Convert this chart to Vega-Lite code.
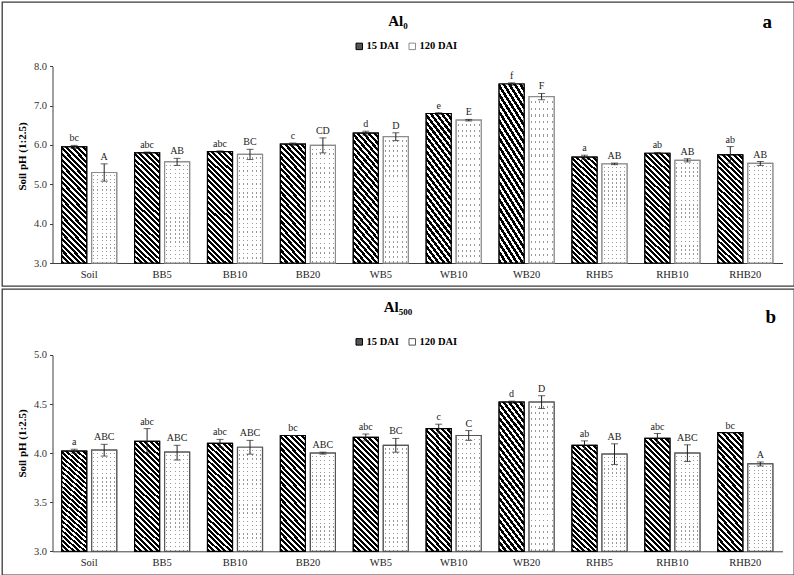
{
"$schema": "https://vega.github.io/schema/vega-lite/v6.json",
"padding": {"left": 1, "top": 1, "right": 1, "bottom": 0},
"spacing": 1,
"config": {
 "font": "Liberation Serif",
 "view": {"stroke": "#3a3a3a", "strokeWidth": 1.3},
 "axis": {"grid": false, "labelFont": "Liberation Serif", "titleFont": "Liberation Serif", "domainColor": "#404040", "tickColor": "#404040", "labelColor": "#333", "labelFontSize": 10.5},
 "legend": {"symbolType": "square", "symbolSize": 42, "labelFont": "Liberation Serif", "labelFontSize": 10.5, "labelFontWeight": "bold", "labelColor": "#000", "labelOffset": 2, "columnPadding": 8, "symbolStrokeWidth": 1}
},
"resolve": {"scale": {"x": "independent", "y": "independent", "xOffset": "independent", "fill": "independent", "stroke": "independent"}, "legend": {"fill": "independent", "stroke": "independent"}},
"vconcat": [
{
 "width": 792, "height": 284,
 "title": {"text": "Al₀", "font": "Liberation Serif", "fontSize": 15, "fontWeight": "bold", "color": "#000", "anchor": "middle", "frame": "group", "offset": -39, "baseline": "alphabetic"},
 "data": {"values": [
  {"cat": "Soil", "series": "15 DAI", "mean": 5.95, "lo": 5.91, "hi": 5.99, "letter": "bc"},
  {"cat": "Soil", "series": "120 DAI", "mean": 5.30, "lo": 5.08, "hi": 5.52, "letter": "A"},
  {"cat": "BB5", "series": "15 DAI", "mean": 5.80, "lo": 5.78, "hi": 5.82, "letter": "abc"},
  {"cat": "BB5", "series": "120 DAI", "mean": 5.57, "lo": 5.48, "hi": 5.66, "letter": "AB"},
  {"cat": "BB10", "series": "15 DAI", "mean": 5.83, "lo": 5.81, "hi": 5.85, "letter": "abc"},
  {"cat": "BB10", "series": "120 DAI", "mean": 5.76, "lo": 5.63, "hi": 5.89, "letter": "BC"},
  {"cat": "BB20", "series": "15 DAI", "mean": 6.02, "lo": 5.99, "hi": 6.05, "letter": "c"},
  {"cat": "BB20", "series": "120 DAI", "mean": 5.99, "lo": 5.80, "hi": 6.18, "letter": "CD"},
  {"cat": "WB5", "series": "15 DAI", "mean": 6.30, "lo": 6.25, "hi": 6.35, "letter": "d"},
  {"cat": "WB5", "series": "120 DAI", "mean": 6.21, "lo": 6.11, "hi": 6.31, "letter": "D"},
  {"cat": "WB10", "series": "15 DAI", "mean": 6.80, "lo": 6.78, "hi": 6.82, "letter": "e"},
  {"cat": "WB10", "series": "120 DAI", "mean": 6.63, "lo": 6.61, "hi": 6.65, "letter": "E"},
  {"cat": "WB20", "series": "15 DAI", "mean": 7.55, "lo": 7.52, "hi": 7.58, "letter": "f"},
  {"cat": "WB20", "series": "120 DAI", "mean": 7.23, "lo": 7.15, "hi": 7.31, "letter": "F"},
  {"cat": "RHB5", "series": "15 DAI", "mean": 5.69, "lo": 5.64, "hi": 5.74, "letter": "a"},
  {"cat": "RHB5", "series": "120 DAI", "mean": 5.52, "lo": 5.50, "hi": 5.54, "letter": "AB"},
  {"cat": "RHB10", "series": "15 DAI", "mean": 5.79, "lo": 5.77, "hi": 5.81, "letter": "ab"},
  {"cat": "RHB10", "series": "120 DAI", "mean": 5.61, "lo": 5.57, "hi": 5.65, "letter": "AB"},
  {"cat": "RHB20", "series": "15 DAI", "mean": 5.75, "lo": 5.54, "hi": 5.96, "letter": "ab"},
  {"cat": "RHB20", "series": "120 DAI", "mean": 5.53, "lo": 5.48, "hi": 5.58, "letter": "AB"}
 ]},
 "encoding": {
  "x": {"field": "cat", "type": "nominal", "title": null,
   "scale": {"domain": ["Soil","BB5","BB10","BB20","WB5","WB10","WB20","RHB5","RHB10","RHB20"], "paddingInner": 0.2455, "paddingOuter": 0.5548, "align": 0.738, "round": false},
   "axis": {"offset": -23, "ticks": false, "labelPadding": 6, "labelAngle": 0, "labelColor": "#222", "domainDash": [730, 2000], "domainDashOffset": 2679.5}},
  "xOffset": {"field": "series", "type": "nominal", "scale": {"domain": ["15 DAI","120 DAI"], "paddingInner": 0.1667, "paddingOuter": 0}}
 },
 "layer": [
  {"mark": {"type": "bar", "strokeWidth": 1.2},
   "encoding": {
    "y": {"field": "mean", "type": "quantitative", "title": "Soil pH (1:2.5)",
     "scale": {"domain": [2.4154, 9.6345], "nice": false, "zero": false},
     "axis": {"values": [3,4,5,6,7,8], "format": ".1f", "offset": -50.5, "tickSize": 3, "labelPadding": 3, "domainDash": [196.7, 1000], "domainDashOffset": 1173.7, "titleFontSize": 11, "titleFontWeight": "bold", "titleColor": "#000", "titleX": -29.8, "titleY": 154, "titleBaseline": "middle", "titleAlign": "center", "titleAngle": -90}},
    "y2": {"datum": 3},
    "fill": {"field": "series", "type": "nominal", "scale": {"domain": ["15 DAI","120 DAI"], "range": ["#555", "#fff"]},
     "legend": {"title": null, "orient": "none", "legendX": 352, "legendY": 39, "direction": "horizontal"}},
    "stroke": {"field": "series", "type": "nominal", "scale": {"domain": ["15 DAI","120 DAI"], "range": ["#000", "#8c8c8c"]},
     "legend": {"title": null, "orient": "none", "legendX": 352, "legendY": 39, "direction": "horizontal"}}
   }},
  {"transform": [{"filter": "datum.series == '15 DAI'"}],
   "mark": {"type": "bar", "strokeWidth": 1.2, "stroke": "#000", "fill": {"gradient": "linear", "x1": 0, "y1": 1, "x2": 0.2588, "y2": -0.1647, "stops": [{"offset":0,"color":"#000"},{"offset":0.022,"color":"#000"},{"offset":0.022,"color":"#fff"},{"offset":0.04,"color":"#fff"},{"offset":0.04,"color":"#000"},{"offset":0.062,"color":"#000"},{"offset":0.062,"color":"#fff"},{"offset":0.08,"color":"#fff"},{"offset":0.08,"color":"#000"},{"offset":0.102,"color":"#000"},{"offset":0.102,"color":"#fff"},{"offset":0.12,"color":"#fff"},{"offset":0.12,"color":"#000"},{"offset":0.142,"color":"#000"},{"offset":0.142,"color":"#fff"},{"offset":0.16,"color":"#fff"},{"offset":0.16,"color":"#000"},{"offset":0.182,"color":"#000"},{"offset":0.182,"color":"#fff"},{"offset":0.2,"color":"#fff"},{"offset":0.2,"color":"#000"},{"offset":0.222,"color":"#000"},{"offset":0.222,"color":"#fff"},{"offset":0.24,"color":"#fff"},{"offset":0.24,"color":"#000"},{"offset":0.262,"color":"#000"},{"offset":0.262,"color":"#fff"},{"offset":0.28,"color":"#fff"},{"offset":0.28,"color":"#000"},{"offset":0.302,"color":"#000"},{"offset":0.302,"color":"#fff"},{"offset":0.32,"color":"#fff"},{"offset":0.32,"color":"#000"},{"offset":0.342,"color":"#000"},{"offset":0.342,"color":"#fff"},{"offset":0.36,"color":"#fff"},{"offset":0.36,"color":"#000"},{"offset":0.382,"color":"#000"},{"offset":0.382,"color":"#fff"},{"offset":0.4,"color":"#fff"},{"offset":0.4,"color":"#000"},{"offset":0.422,"color":"#000"},{"offset":0.422,"color":"#fff"},{"offset":0.44,"color":"#fff"},{"offset":0.44,"color":"#000"},{"offset":0.462,"color":"#000"},{"offset":0.462,"color":"#fff"},{"offset":0.48,"color":"#fff"},{"offset":0.48,"color":"#000"},{"offset":0.502,"color":"#000"},{"offset":0.502,"color":"#fff"},{"offset":0.52,"color":"#fff"},{"offset":0.52,"color":"#000"},{"offset":0.542,"color":"#000"},{"offset":0.542,"color":"#fff"},{"offset":0.56,"color":"#fff"},{"offset":0.56,"color":"#000"},{"offset":0.582,"color":"#000"},{"offset":0.582,"color":"#fff"},{"offset":0.6,"color":"#fff"},{"offset":0.6,"color":"#000"},{"offset":0.622,"color":"#000"},{"offset":0.622,"color":"#fff"},{"offset":0.64,"color":"#fff"},{"offset":0.64,"color":"#000"},{"offset":0.662,"color":"#000"},{"offset":0.662,"color":"#fff"},{"offset":0.68,"color":"#fff"},{"offset":0.68,"color":"#000"},{"offset":0.702,"color":"#000"},{"offset":0.702,"color":"#fff"},{"offset":0.72,"color":"#fff"},{"offset":0.72,"color":"#000"},{"offset":0.742,"color":"#000"},{"offset":0.742,"color":"#fff"},{"offset":0.76,"color":"#fff"},{"offset":0.76,"color":"#000"},{"offset":0.782,"color":"#000"},{"offset":0.782,"color":"#fff"},{"offset":0.8,"color":"#fff"},{"offset":0.8,"color":"#000"},{"offset":0.822,"color":"#000"},{"offset":0.822,"color":"#fff"},{"offset":0.84,"color":"#fff"},{"offset":0.84,"color":"#000"},{"offset":0.862,"color":"#000"},{"offset":0.862,"color":"#fff"},{"offset":0.88,"color":"#fff"},{"offset":0.88,"color":"#000"},{"offset":0.902,"color":"#000"},{"offset":0.902,"color":"#fff"},{"offset":0.92,"color":"#fff"},{"offset":0.92,"color":"#000"},{"offset":0.942,"color":"#000"},{"offset":0.942,"color":"#fff"},{"offset":0.96,"color":"#fff"},{"offset":0.96,"color":"#000"},{"offset":0.982,"color":"#000"},{"offset":0.982,"color":"#fff"},{"offset":1,"color":"#fff"}]}},
   "encoding": {"y": {"field": "mean", "type": "quantitative", "title": "Soil pH (1:2.5)"}, "y2": {"datum": 3}}},
  {"transform": [{"filter": "datum.series == '120 DAI'"}],
   "mark": {"type": "bar", "strokeWidth": 0, "fill": {"gradient": "linear", "x1": 0, "y1": 0, "x2": 1, "y2": 0, "stops": [{"offset":0,"color":"#fff"},{"offset":0.063,"color":"#fff"},{"offset":0.063,"color":"#999"},{"offset":0.103,"color":"#999"},{"offset":0.103,"color":"#fff"},{"offset":0.23,"color":"#fff"},{"offset":0.23,"color":"#999"},{"offset":0.27,"color":"#999"},{"offset":0.27,"color":"#fff"},{"offset":0.397,"color":"#fff"},{"offset":0.397,"color":"#999"},{"offset":0.437,"color":"#999"},{"offset":0.437,"color":"#fff"},{"offset":0.563,"color":"#fff"},{"offset":0.563,"color":"#999"},{"offset":0.603,"color":"#999"},{"offset":0.603,"color":"#fff"},{"offset":0.73,"color":"#fff"},{"offset":0.73,"color":"#999"},{"offset":0.77,"color":"#999"},{"offset":0.77,"color":"#fff"},{"offset":0.897,"color":"#fff"},{"offset":0.897,"color":"#999"},{"offset":0.937,"color":"#999"},{"offset":0.937,"color":"#fff"},{"offset":1,"color":"#fff"}]}},
   "encoding": {"y": {"field": "mean", "type": "quantitative", "title": "Soil pH (1:2.5)"}, "y2": {"datum": 3}}},
  {"transform": [{"filter": "datum.series == '120 DAI'"}],
   "mark": {"type": "bar", "strokeWidth": 1.2, "stroke": "#8c8c8c", "fill": {"gradient": "linear", "x1": 0, "y1": 0, "x2": 0, "y2": 1, "stops": [{"offset":0,"color":"#fff"},{"offset":0.027,"color":"#fff"},{"offset":0.027,"color":"rgba(255,255,255,0)"},{"offset":0.04,"color":"rgba(255,255,255,0)"},{"offset":0.04,"color":"#fff"},{"offset":0.067,"color":"#fff"},{"offset":0.067,"color":"rgba(255,255,255,0)"},{"offset":0.08,"color":"rgba(255,255,255,0)"},{"offset":0.08,"color":"#fff"},{"offset":0.107,"color":"#fff"},{"offset":0.107,"color":"rgba(255,255,255,0)"},{"offset":0.12,"color":"rgba(255,255,255,0)"},{"offset":0.12,"color":"#fff"},{"offset":0.147,"color":"#fff"},{"offset":0.147,"color":"rgba(255,255,255,0)"},{"offset":0.16,"color":"rgba(255,255,255,0)"},{"offset":0.16,"color":"#fff"},{"offset":0.187,"color":"#fff"},{"offset":0.187,"color":"rgba(255,255,255,0)"},{"offset":0.2,"color":"rgba(255,255,255,0)"},{"offset":0.2,"color":"#fff"},{"offset":0.227,"color":"#fff"},{"offset":0.227,"color":"rgba(255,255,255,0)"},{"offset":0.24,"color":"rgba(255,255,255,0)"},{"offset":0.24,"color":"#fff"},{"offset":0.267,"color":"#fff"},{"offset":0.267,"color":"rgba(255,255,255,0)"},{"offset":0.28,"color":"rgba(255,255,255,0)"},{"offset":0.28,"color":"#fff"},{"offset":0.307,"color":"#fff"},{"offset":0.307,"color":"rgba(255,255,255,0)"},{"offset":0.32,"color":"rgba(255,255,255,0)"},{"offset":0.32,"color":"#fff"},{"offset":0.347,"color":"#fff"},{"offset":0.347,"color":"rgba(255,255,255,0)"},{"offset":0.36,"color":"rgba(255,255,255,0)"},{"offset":0.36,"color":"#fff"},{"offset":0.387,"color":"#fff"},{"offset":0.387,"color":"rgba(255,255,255,0)"},{"offset":0.4,"color":"rgba(255,255,255,0)"},{"offset":0.4,"color":"#fff"},{"offset":0.427,"color":"#fff"},{"offset":0.427,"color":"rgba(255,255,255,0)"},{"offset":0.44,"color":"rgba(255,255,255,0)"},{"offset":0.44,"color":"#fff"},{"offset":0.467,"color":"#fff"},{"offset":0.467,"color":"rgba(255,255,255,0)"},{"offset":0.48,"color":"rgba(255,255,255,0)"},{"offset":0.48,"color":"#fff"},{"offset":0.507,"color":"#fff"},{"offset":0.507,"color":"rgba(255,255,255,0)"},{"offset":0.52,"color":"rgba(255,255,255,0)"},{"offset":0.52,"color":"#fff"},{"offset":0.547,"color":"#fff"},{"offset":0.547,"color":"rgba(255,255,255,0)"},{"offset":0.56,"color":"rgba(255,255,255,0)"},{"offset":0.56,"color":"#fff"},{"offset":0.587,"color":"#fff"},{"offset":0.587,"color":"rgba(255,255,255,0)"},{"offset":0.6,"color":"rgba(255,255,255,0)"},{"offset":0.6,"color":"#fff"},{"offset":0.627,"color":"#fff"},{"offset":0.627,"color":"rgba(255,255,255,0)"},{"offset":0.64,"color":"rgba(255,255,255,0)"},{"offset":0.64,"color":"#fff"},{"offset":0.667,"color":"#fff"},{"offset":0.667,"color":"rgba(255,255,255,0)"},{"offset":0.68,"color":"rgba(255,255,255,0)"},{"offset":0.68,"color":"#fff"},{"offset":0.707,"color":"#fff"},{"offset":0.707,"color":"rgba(255,255,255,0)"},{"offset":0.72,"color":"rgba(255,255,255,0)"},{"offset":0.72,"color":"#fff"},{"offset":0.747,"color":"#fff"},{"offset":0.747,"color":"rgba(255,255,255,0)"},{"offset":0.76,"color":"rgba(255,255,255,0)"},{"offset":0.76,"color":"#fff"},{"offset":0.787,"color":"#fff"},{"offset":0.787,"color":"rgba(255,255,255,0)"},{"offset":0.8,"color":"rgba(255,255,255,0)"},{"offset":0.8,"color":"#fff"},{"offset":0.827,"color":"#fff"},{"offset":0.827,"color":"rgba(255,255,255,0)"},{"offset":0.84,"color":"rgba(255,255,255,0)"},{"offset":0.84,"color":"#fff"},{"offset":0.867,"color":"#fff"},{"offset":0.867,"color":"rgba(255,255,255,0)"},{"offset":0.88,"color":"rgba(255,255,255,0)"},{"offset":0.88,"color":"#fff"},{"offset":0.907,"color":"#fff"},{"offset":0.907,"color":"rgba(255,255,255,0)"},{"offset":0.92,"color":"rgba(255,255,255,0)"},{"offset":0.92,"color":"#fff"},{"offset":0.947,"color":"#fff"},{"offset":0.947,"color":"rgba(255,255,255,0)"},{"offset":0.96,"color":"rgba(255,255,255,0)"},{"offset":0.96,"color":"#fff"},{"offset":0.987,"color":"#fff"},{"offset":0.987,"color":"rgba(255,255,255,0)"},{"offset":1,"color":"rgba(255,255,255,0)"}]}},
   "encoding": {"y": {"field": "mean", "type": "quantitative", "title": "Soil pH (1:2.5)"}, "y2": {"datum": 3}}},
  {"mark": {"type": "errorbar", "color": "#222", "thickness": 1, "ticks": {"size": 7, "thickness": 1, "color": "#222"}},
   "encoding": {
    "y": {"field": "lo", "type": "quantitative", "title": "Soil pH (1:2.5)"},
    "y2": {"field": "hi"}
   }},
  {"mark": {"type": "text", "baseline": "alphabetic", "dy": -4, "fontSize": 10, "color": "#222", "font": "Liberation Serif"},
   "encoding": {
    "y": {"field": "hi", "type": "quantitative", "title": "Soil pH (1:2.5)"},
    "text": {"field": "letter"}
   }},
  {"data": {"values": [{"label": "a"}]},
   "mark": {"type": "text", "baseline": "alphabetic", "dx": 7, "fontSize": 19, "fontWeight": "bold", "color": "#000", "font": "Liberation Serif"},
   "encoding": {
    "x": {"datum": "RHB20"},
    "xOffset": {"datum": "120 DAI"},
    "y": {"datum": 8.97},
    "text": {"field": "label"}
   }}
 ]
},
{
 "width": 792, "height": 286,
 "title": {"text": "Al₅₀₀", "font": "Liberation Serif", "fontSize": 15, "fontWeight": "bold", "color": "#000", "anchor": "middle", "frame": "group", "offset": -38, "baseline": "alphabetic"},
 "data": {"values": [
  {"cat": "Soil", "series": "15 DAI", "mean": 4.02, "lo": 4.00, "hi": 4.04, "letter": "a"},
  {"cat": "Soil", "series": "120 DAI", "mean": 4.03, "lo": 3.97, "hi": 4.09, "letter": "ABC"},
  {"cat": "BB5", "series": "15 DAI", "mean": 4.12, "lo": 4.00, "hi": 4.25, "letter": "abc"},
  {"cat": "BB5", "series": "120 DAI", "mean": 4.01, "lo": 3.93, "hi": 4.08, "letter": "ABC"},
  {"cat": "BB10", "series": "15 DAI", "mean": 4.10, "lo": 4.06, "hi": 4.14, "letter": "abc"},
  {"cat": "BB10", "series": "120 DAI", "mean": 4.06, "lo": 3.99, "hi": 4.13, "letter": "ABC"},
  {"cat": "BB20", "series": "15 DAI", "mean": 4.18, "lo": 4.18, "hi": 4.18, "letter": "bc"},
  {"cat": "BB20", "series": "120 DAI", "mean": 4.00, "lo": 3.99, "hi": 4.01, "letter": "ABC"},
  {"cat": "WB5", "series": "15 DAI", "mean": 4.16, "lo": 4.125, "hi": 4.195, "letter": "abc"},
  {"cat": "WB5", "series": "120 DAI", "mean": 4.08, "lo": 4.01, "hi": 4.15, "letter": "BC"},
  {"cat": "WB10", "series": "15 DAI", "mean": 4.25, "lo": 4.205, "hi": 4.295, "letter": "c"},
  {"cat": "WB10", "series": "120 DAI", "mean": 4.18, "lo": 4.13, "hi": 4.23, "letter": "C"},
  {"cat": "WB20", "series": "15 DAI", "mean": 4.52, "lo": 4.51, "hi": 4.53, "letter": "d"},
  {"cat": "WB20", "series": "120 DAI", "mean": 4.52, "lo": 4.455, "hi": 4.585, "letter": "D"},
  {"cat": "RHB5", "series": "15 DAI", "mean": 4.08, "lo": 4.035, "hi": 4.125, "letter": "ab"},
  {"cat": "RHB5", "series": "120 DAI", "mean": 3.99, "lo": 3.885, "hi": 4.095, "letter": "AB"},
  {"cat": "RHB10", "series": "15 DAI", "mean": 4.15, "lo": 4.10, "hi": 4.20, "letter": "abc"},
  {"cat": "RHB10", "series": "120 DAI", "mean": 4.00, "lo": 3.915, "hi": 4.085, "letter": "ABC"},
  {"cat": "RHB20", "series": "15 DAI", "mean": 4.21, "lo": 4.21, "hi": 4.21, "letter": "bc"},
  {"cat": "RHB20", "series": "120 DAI", "mean": 3.89, "lo": 3.87, "hi": 3.91, "letter": "A"}
 ]},
 "encoding": {
  "x": {"field": "cat", "type": "nominal", "title": null,
   "scale": {"domain": ["Soil","BB5","BB10","BB20","WB5","WB10","WB20","RHB5","RHB10","RHB20"], "paddingInner": 0.2455, "paddingOuter": 0.5548, "align": 0.738, "round": false},
   "axis": {"offset": -23.7, "ticks": false, "labelPadding": 6, "labelAngle": 0, "labelColor": "#222", "domainDash": [730, 2000], "domainDashOffset": 2679.5}},
  "xOffset": {"field": "series", "type": "nominal", "scale": {"domain": ["15 DAI","120 DAI"], "paddingInner": 0.1667, "paddingOuter": 0}}
 },
 "layer": [
  {"mark": {"type": "bar", "strokeWidth": 1.2},
   "encoding": {
    "y": {"field": "mean", "type": "quantitative", "title": "Soil pH (1:2.5)",
     "scale": {"domain": [2.7585, 5.6724], "nice": false, "zero": false},
     "axis": {"values": [3,3.5,4,4.5,5], "format": ".1f", "offset": -50.5, "tickSize": 3, "labelPadding": 3, "domainDash": [196.3, 1000], "domainDashOffset": 1172.6, "titleFontSize": 11, "titleFontWeight": "bold", "titleColor": "#000", "titleX": -29.8, "titleY": 154, "titleBaseline": "middle", "titleAlign": "center", "titleAngle": -90}},
    "y2": {"datum": 3},
    "fill": {"field": "series", "type": "nominal", "scale": {"domain": ["15 DAI","120 DAI"], "range": ["#555", "#fff"]},
     "legend": {"title": null, "orient": "none", "legendX": 352, "legendY": 47.5, "direction": "horizontal"}},
    "stroke": {"field": "series", "type": "nominal", "scale": {"domain": ["15 DAI","120 DAI"], "range": ["#000", "#555"]},
     "legend": {"title": null, "orient": "none", "legendX": 352, "legendY": 47.5, "direction": "horizontal"}}
   }},
  {"transform": [{"filter": "datum.series == '15 DAI'"}],
   "mark": {"type": "bar", "strokeWidth": 1.2, "stroke": "#000", "fill": {"gradient": "linear", "x1": 0, "y1": 1, "x2": 0.2588, "y2": -0.1647, "stops": [{"offset":0,"color":"#000"},{"offset":0.022,"color":"#000"},{"offset":0.022,"color":"#fff"},{"offset":0.04,"color":"#fff"},{"offset":0.04,"color":"#000"},{"offset":0.062,"color":"#000"},{"offset":0.062,"color":"#fff"},{"offset":0.08,"color":"#fff"},{"offset":0.08,"color":"#000"},{"offset":0.102,"color":"#000"},{"offset":0.102,"color":"#fff"},{"offset":0.12,"color":"#fff"},{"offset":0.12,"color":"#000"},{"offset":0.142,"color":"#000"},{"offset":0.142,"color":"#fff"},{"offset":0.16,"color":"#fff"},{"offset":0.16,"color":"#000"},{"offset":0.182,"color":"#000"},{"offset":0.182,"color":"#fff"},{"offset":0.2,"color":"#fff"},{"offset":0.2,"color":"#000"},{"offset":0.222,"color":"#000"},{"offset":0.222,"color":"#fff"},{"offset":0.24,"color":"#fff"},{"offset":0.24,"color":"#000"},{"offset":0.262,"color":"#000"},{"offset":0.262,"color":"#fff"},{"offset":0.28,"color":"#fff"},{"offset":0.28,"color":"#000"},{"offset":0.302,"color":"#000"},{"offset":0.302,"color":"#fff"},{"offset":0.32,"color":"#fff"},{"offset":0.32,"color":"#000"},{"offset":0.342,"color":"#000"},{"offset":0.342,"color":"#fff"},{"offset":0.36,"color":"#fff"},{"offset":0.36,"color":"#000"},{"offset":0.382,"color":"#000"},{"offset":0.382,"color":"#fff"},{"offset":0.4,"color":"#fff"},{"offset":0.4,"color":"#000"},{"offset":0.422,"color":"#000"},{"offset":0.422,"color":"#fff"},{"offset":0.44,"color":"#fff"},{"offset":0.44,"color":"#000"},{"offset":0.462,"color":"#000"},{"offset":0.462,"color":"#fff"},{"offset":0.48,"color":"#fff"},{"offset":0.48,"color":"#000"},{"offset":0.502,"color":"#000"},{"offset":0.502,"color":"#fff"},{"offset":0.52,"color":"#fff"},{"offset":0.52,"color":"#000"},{"offset":0.542,"color":"#000"},{"offset":0.542,"color":"#fff"},{"offset":0.56,"color":"#fff"},{"offset":0.56,"color":"#000"},{"offset":0.582,"color":"#000"},{"offset":0.582,"color":"#fff"},{"offset":0.6,"color":"#fff"},{"offset":0.6,"color":"#000"},{"offset":0.622,"color":"#000"},{"offset":0.622,"color":"#fff"},{"offset":0.64,"color":"#fff"},{"offset":0.64,"color":"#000"},{"offset":0.662,"color":"#000"},{"offset":0.662,"color":"#fff"},{"offset":0.68,"color":"#fff"},{"offset":0.68,"color":"#000"},{"offset":0.702,"color":"#000"},{"offset":0.702,"color":"#fff"},{"offset":0.72,"color":"#fff"},{"offset":0.72,"color":"#000"},{"offset":0.742,"color":"#000"},{"offset":0.742,"color":"#fff"},{"offset":0.76,"color":"#fff"},{"offset":0.76,"color":"#000"},{"offset":0.782,"color":"#000"},{"offset":0.782,"color":"#fff"},{"offset":0.8,"color":"#fff"},{"offset":0.8,"color":"#000"},{"offset":0.822,"color":"#000"},{"offset":0.822,"color":"#fff"},{"offset":0.84,"color":"#fff"},{"offset":0.84,"color":"#000"},{"offset":0.862,"color":"#000"},{"offset":0.862,"color":"#fff"},{"offset":0.88,"color":"#fff"},{"offset":0.88,"color":"#000"},{"offset":0.902,"color":"#000"},{"offset":0.902,"color":"#fff"},{"offset":0.92,"color":"#fff"},{"offset":0.92,"color":"#000"},{"offset":0.942,"color":"#000"},{"offset":0.942,"color":"#fff"},{"offset":0.96,"color":"#fff"},{"offset":0.96,"color":"#000"},{"offset":0.982,"color":"#000"},{"offset":0.982,"color":"#fff"},{"offset":1,"color":"#fff"}]}},
   "encoding": {"y": {"field": "mean", "type": "quantitative", "title": "Soil pH (1:2.5)"}, "y2": {"datum": 3}}},
  {"transform": [{"filter": "datum.series == '120 DAI'"}],
   "mark": {"type": "bar", "strokeWidth": 0, "fill": {"gradient": "linear", "x1": 0, "y1": 0, "x2": 1, "y2": 0, "stops": [{"offset":0,"color":"#fff"},{"offset":0.063,"color":"#fff"},{"offset":0.063,"color":"#999"},{"offset":0.103,"color":"#999"},{"offset":0.103,"color":"#fff"},{"offset":0.23,"color":"#fff"},{"offset":0.23,"color":"#999"},{"offset":0.27,"color":"#999"},{"offset":0.27,"color":"#fff"},{"offset":0.397,"color":"#fff"},{"offset":0.397,"color":"#999"},{"offset":0.437,"color":"#999"},{"offset":0.437,"color":"#fff"},{"offset":0.563,"color":"#fff"},{"offset":0.563,"color":"#999"},{"offset":0.603,"color":"#999"},{"offset":0.603,"color":"#fff"},{"offset":0.73,"color":"#fff"},{"offset":0.73,"color":"#999"},{"offset":0.77,"color":"#999"},{"offset":0.77,"color":"#fff"},{"offset":0.897,"color":"#fff"},{"offset":0.897,"color":"#999"},{"offset":0.937,"color":"#999"},{"offset":0.937,"color":"#fff"},{"offset":1,"color":"#fff"}]}},
   "encoding": {"y": {"field": "mean", "type": "quantitative", "title": "Soil pH (1:2.5)"}, "y2": {"datum": 3}}},
  {"transform": [{"filter": "datum.series == '120 DAI'"}],
   "mark": {"type": "bar", "strokeWidth": 1.2, "stroke": "#555", "fill": {"gradient": "linear", "x1": 0, "y1": 0, "x2": 0, "y2": 1, "stops": [{"offset":0,"color":"#fff"},{"offset":0.027,"color":"#fff"},{"offset":0.027,"color":"rgba(255,255,255,0)"},{"offset":0.04,"color":"rgba(255,255,255,0)"},{"offset":0.04,"color":"#fff"},{"offset":0.067,"color":"#fff"},{"offset":0.067,"color":"rgba(255,255,255,0)"},{"offset":0.08,"color":"rgba(255,255,255,0)"},{"offset":0.08,"color":"#fff"},{"offset":0.107,"color":"#fff"},{"offset":0.107,"color":"rgba(255,255,255,0)"},{"offset":0.12,"color":"rgba(255,255,255,0)"},{"offset":0.12,"color":"#fff"},{"offset":0.147,"color":"#fff"},{"offset":0.147,"color":"rgba(255,255,255,0)"},{"offset":0.16,"color":"rgba(255,255,255,0)"},{"offset":0.16,"color":"#fff"},{"offset":0.187,"color":"#fff"},{"offset":0.187,"color":"rgba(255,255,255,0)"},{"offset":0.2,"color":"rgba(255,255,255,0)"},{"offset":0.2,"color":"#fff"},{"offset":0.227,"color":"#fff"},{"offset":0.227,"color":"rgba(255,255,255,0)"},{"offset":0.24,"color":"rgba(255,255,255,0)"},{"offset":0.24,"color":"#fff"},{"offset":0.267,"color":"#fff"},{"offset":0.267,"color":"rgba(255,255,255,0)"},{"offset":0.28,"color":"rgba(255,255,255,0)"},{"offset":0.28,"color":"#fff"},{"offset":0.307,"color":"#fff"},{"offset":0.307,"color":"rgba(255,255,255,0)"},{"offset":0.32,"color":"rgba(255,255,255,0)"},{"offset":0.32,"color":"#fff"},{"offset":0.347,"color":"#fff"},{"offset":0.347,"color":"rgba(255,255,255,0)"},{"offset":0.36,"color":"rgba(255,255,255,0)"},{"offset":0.36,"color":"#fff"},{"offset":0.387,"color":"#fff"},{"offset":0.387,"color":"rgba(255,255,255,0)"},{"offset":0.4,"color":"rgba(255,255,255,0)"},{"offset":0.4,"color":"#fff"},{"offset":0.427,"color":"#fff"},{"offset":0.427,"color":"rgba(255,255,255,0)"},{"offset":0.44,"color":"rgba(255,255,255,0)"},{"offset":0.44,"color":"#fff"},{"offset":0.467,"color":"#fff"},{"offset":0.467,"color":"rgba(255,255,255,0)"},{"offset":0.48,"color":"rgba(255,255,255,0)"},{"offset":0.48,"color":"#fff"},{"offset":0.507,"color":"#fff"},{"offset":0.507,"color":"rgba(255,255,255,0)"},{"offset":0.52,"color":"rgba(255,255,255,0)"},{"offset":0.52,"color":"#fff"},{"offset":0.547,"color":"#fff"},{"offset":0.547,"color":"rgba(255,255,255,0)"},{"offset":0.56,"color":"rgba(255,255,255,0)"},{"offset":0.56,"color":"#fff"},{"offset":0.587,"color":"#fff"},{"offset":0.587,"color":"rgba(255,255,255,0)"},{"offset":0.6,"color":"rgba(255,255,255,0)"},{"offset":0.6,"color":"#fff"},{"offset":0.627,"color":"#fff"},{"offset":0.627,"color":"rgba(255,255,255,0)"},{"offset":0.64,"color":"rgba(255,255,255,0)"},{"offset":0.64,"color":"#fff"},{"offset":0.667,"color":"#fff"},{"offset":0.667,"color":"rgba(255,255,255,0)"},{"offset":0.68,"color":"rgba(255,255,255,0)"},{"offset":0.68,"color":"#fff"},{"offset":0.707,"color":"#fff"},{"offset":0.707,"color":"rgba(255,255,255,0)"},{"offset":0.72,"color":"rgba(255,255,255,0)"},{"offset":0.72,"color":"#fff"},{"offset":0.747,"color":"#fff"},{"offset":0.747,"color":"rgba(255,255,255,0)"},{"offset":0.76,"color":"rgba(255,255,255,0)"},{"offset":0.76,"color":"#fff"},{"offset":0.787,"color":"#fff"},{"offset":0.787,"color":"rgba(255,255,255,0)"},{"offset":0.8,"color":"rgba(255,255,255,0)"},{"offset":0.8,"color":"#fff"},{"offset":0.827,"color":"#fff"},{"offset":0.827,"color":"rgba(255,255,255,0)"},{"offset":0.84,"color":"rgba(255,255,255,0)"},{"offset":0.84,"color":"#fff"},{"offset":0.867,"color":"#fff"},{"offset":0.867,"color":"rgba(255,255,255,0)"},{"offset":0.88,"color":"rgba(255,255,255,0)"},{"offset":0.88,"color":"#fff"},{"offset":0.907,"color":"#fff"},{"offset":0.907,"color":"rgba(255,255,255,0)"},{"offset":0.92,"color":"rgba(255,255,255,0)"},{"offset":0.92,"color":"#fff"},{"offset":0.947,"color":"#fff"},{"offset":0.947,"color":"rgba(255,255,255,0)"},{"offset":0.96,"color":"rgba(255,255,255,0)"},{"offset":0.96,"color":"#fff"},{"offset":0.987,"color":"#fff"},{"offset":0.987,"color":"rgba(255,255,255,0)"},{"offset":1,"color":"rgba(255,255,255,0)"}]}},
   "encoding": {"y": {"field": "mean", "type": "quantitative", "title": "Soil pH (1:2.5)"}, "y2": {"datum": 3}}},
  {"mark": {"type": "errorbar", "color": "#222", "thickness": 1, "ticks": {"size": 7, "thickness": 1, "color": "#222"}},
   "encoding": {
    "y": {"field": "lo", "type": "quantitative", "title": "Soil pH (1:2.5)"},
    "y2": {"field": "hi"}
   }},
  {"mark": {"type": "text", "baseline": "alphabetic", "dy": -4, "fontSize": 10, "color": "#222", "font": "Liberation Serif"},
   "encoding": {
    "y": {"field": "hi", "type": "quantitative", "title": "Soil pH (1:2.5)"},
    "text": {"field": "letter"}
   }},
  {"data": {"values": [{"label": "b"}]},
   "mark": {"type": "text", "baseline": "alphabetic", "dx": 10.5, "fontSize": 19, "fontWeight": "bold", "color": "#000", "font": "Liberation Serif"},
   "encoding": {
    "x": {"datum": "RHB20"},
    "xOffset": {"datum": "120 DAI"},
    "y": {"datum": 5.326},
    "text": {"field": "label"}
   }}
 ]
}
]
}
